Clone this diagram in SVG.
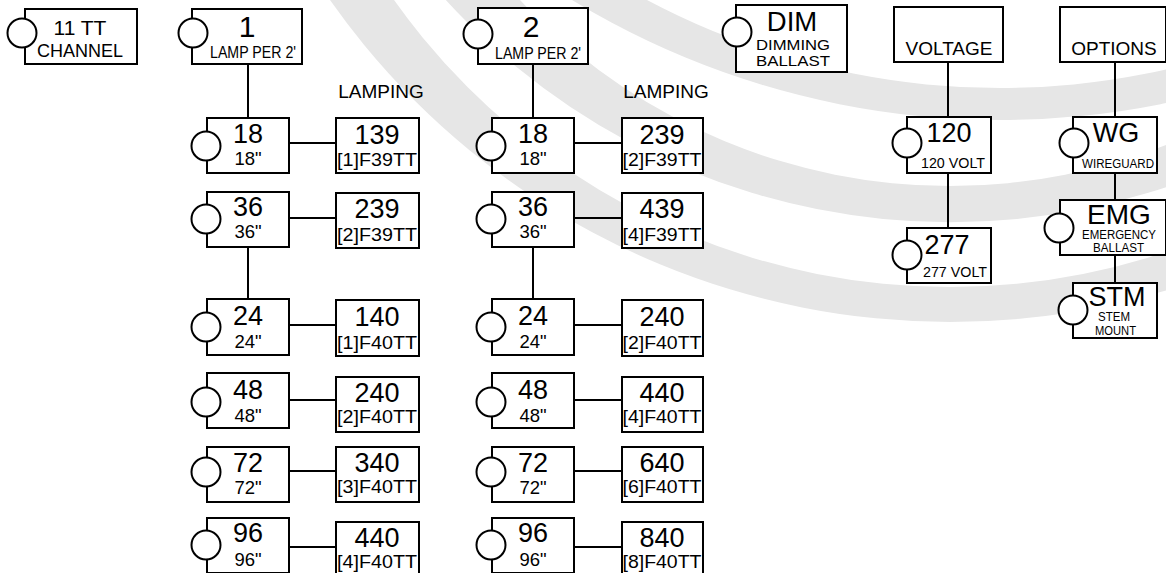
<svg xmlns="http://www.w3.org/2000/svg" width="1166" height="573" viewBox="0 0 1166 573">
<style>
.bg{fill:#fff}
.band{fill:#e6e6e6;fill-rule:evenodd;stroke:none}
.box{fill:#fff;stroke:#000;stroke-width:2}
.port{fill:#fff;stroke:#000;stroke-width:2}
.conn line{stroke:#000;stroke-width:2}
text{font-family:"Liberation Sans",Arial,Helvetica,sans-serif;fill:#000;text-anchor:middle}
.big{font-size:27px}
.sm{font-size:18.5px}
.hd{font-size:19px}
.xs{font-size:12px}
.ms{font-size:15.5px}
</style>
<rect class="bg" x="0" y="0" width="1166" height="573"/>
<g id="watermark">
<path class="band" d="M192.1,-435.9 a757.9,757.9 0 1 0 1515.8,0 a757.9,757.9 0 1 0 -1515.8,0 Z M268,-395 a682,682 0 1 0 1364,0 a682,682 0 1 0 -1364,0 Z"/>
<path class="band" d="M266.9,-461.1 a683.1,683.1 0 1 0 1366.2,0 a683.1,683.1 0 1 0 -1366.2,0 Z M360,-404 a590,590 0 1 0 1180,0 a590,590 0 1 0 -1180,0 Z"/>
<path class="band" d="M176.7,-703.3 a823.3,823.3 0 1 0 1646.6,0 a823.3,823.3 0 1 0 -1646.6,0 Z M248,-664 a752,752 0 1 0 1504,0 a752,752 0 1 0 -1504,0 Z"/>
</g>
<g id="connectors" class="conn">
<line x1="248" y1="64" x2="248" y2="118"/>
<line x1="248" y1="247" x2="248" y2="299"/>
<line x1="533" y1="64" x2="533" y2="118"/>
<line x1="533" y1="247" x2="533" y2="299"/>
<line x1="948" y1="62" x2="948" y2="117"/>
<line x1="948" y1="173" x2="948" y2="228"/>
<line x1="1115" y1="62" x2="1115" y2="117"/>
<line x1="1115" y1="173" x2="1115" y2="200"/>
<line x1="1115" y1="255" x2="1115" y2="283"/>
<line x1="289" y1="143" x2="336" y2="143"/>
<line x1="289" y1="218" x2="336" y2="218"/>
<line x1="289" y1="325" x2="336" y2="325"/>
<line x1="289" y1="400" x2="336" y2="400"/>
<line x1="289" y1="471" x2="336" y2="471"/>
<line x1="289" y1="547" x2="336" y2="547"/>
<line x1="574" y1="143" x2="622" y2="143"/>
<line x1="574" y1="218" x2="622" y2="218"/>
<line x1="574" y1="325" x2="622" y2="325"/>
<line x1="574" y1="400" x2="622" y2="400"/>
<line x1="574" y1="471" x2="622" y2="471"/>
<line x1="574" y1="547" x2="622" y2="547"/>
</g>
<text class="hd" x="381" y="98">LAMPING</text>
<text class="hd" x="666" y="98">LAMPING</text>
<g id="n-11tt">
<rect class="box" x="25" y="9" width="112" height="55"/>
<circle class="port" cx="22" cy="33" r="14.5"/>
<text x="80" y="35" style="font-size:21px">11 TT</text>
<text x="80" y="57" style="font-size:18px">CHANNEL</text>
</g>
<g id="n-1">
<rect class="box" x="192" y="9" width="110" height="55"/>
<circle class="port" cx="193" cy="33" r="14.5"/>
<text x="247" y="37" style="font-size:30px">1</text>
<text x="253" y="58" style="font-size:17px" textLength="86" lengthAdjust="spacingAndGlyphs">LAMP PER 2'</text>
</g>
<g id="n-2">
<rect class="box" x="478" y="8" width="110" height="56"/>
<circle class="port" cx="478" cy="34" r="14.5"/>
<text x="531" y="37" style="font-size:30px">2</text>
<text x="538" y="59" style="font-size:17px" textLength="86" lengthAdjust="spacingAndGlyphs">LAMP PER 2'</text>
</g>
<g id="n-dim">
<rect class="box" x="736" y="5" width="111" height="67"/>
<circle class="port" cx="737" cy="32" r="14.5"/>
<text x="792" y="31" style="font-size:27.5px">DIM</text>
<text class="ms" x="793" y="50" textLength="74" lengthAdjust="spacingAndGlyphs">DIMMING</text>
<text class="ms" x="793" y="66" textLength="74" lengthAdjust="spacingAndGlyphs">BALLAST</text>
</g>
<g id="n-voltage">
<rect class="box" x="894" y="7" width="109" height="55"/>
<text class="hd" x="949" y="55">VOLTAGE</text>
</g>
<g id="n-options">
<rect class="box" x="1060" y="7" width="106" height="55"/>
<text class="hd" x="1114" y="55">OPTIONS</text>
</g>
<!-- column 1 -->
<g id="c1-18"><rect class="box" x="207" y="118" width="82" height="55"/><circle class="port" cx="206" cy="146" r="14.5"/><text class="big" x="248" y="143">18</text><text class="sm" x="248" y="165">18"</text></g>
<g id="c1-36"><rect class="box" x="207" y="192" width="82" height="55"/><circle class="port" cx="206" cy="219" r="14.5"/><text class="big" x="248" y="216">36</text><text class="sm" x="248" y="238">36"</text></g>
<g id="c1-24"><rect class="box" x="207" y="299" width="82" height="56"/><circle class="port" cx="206" cy="327" r="14.5"/><text class="big" x="248" y="325">24</text><text class="sm" x="248" y="348">24"</text></g>
<g id="c1-48"><rect class="box" x="207" y="373" width="82" height="55"/><circle class="port" cx="206" cy="402" r="14.5"/><text class="big" x="248" y="399">48</text><text class="sm" x="248" y="422">48"</text></g>
<g id="c1-72"><rect class="box" x="207" y="447" width="82" height="55"/><circle class="port" cx="206" cy="472" r="14.5"/><text class="big" x="248" y="472">72</text><text class="sm" x="248" y="494">72"</text></g>
<g id="c1-96"><rect class="box" x="207" y="518" width="82" height="55"/><circle class="port" cx="206" cy="545" r="14.5"/><text class="big" x="248" y="542">96</text><text class="sm" x="248" y="566">96"</text></g>
<g id="c1-139"><rect class="box" x="336" y="118" width="83" height="55"/><text class="big" x="377" y="144">139</text><text class="sm" x="377" y="166" textLength="80" lengthAdjust="spacingAndGlyphs">[1]F39TT</text></g>
<g id="c1-239"><rect class="box" x="336" y="193" width="83" height="55"/><text class="big" x="377" y="218">239</text><text class="sm" x="377" y="241" textLength="80" lengthAdjust="spacingAndGlyphs">[2]F39TT</text></g>
<g id="c1-140"><rect class="box" x="336" y="300" width="83" height="56"/><text class="big" x="377" y="326">140</text><text class="sm" x="377" y="349" textLength="80" lengthAdjust="spacingAndGlyphs">[1]F40TT</text></g>
<g id="c1-240"><rect class="box" x="336" y="377" width="83" height="55"/><text class="big" x="377" y="402">240</text><text class="sm" x="377" y="423" textLength="80" lengthAdjust="spacingAndGlyphs">[2]F40TT</text></g>
<g id="c1-340"><rect class="box" x="336" y="447" width="83" height="55"/><text class="big" x="377" y="472">340</text><text class="sm" x="377" y="493" textLength="80" lengthAdjust="spacingAndGlyphs">[3]F40TT</text></g>
<g id="c1-440"><rect class="box" x="336" y="522" width="83" height="55"/><text class="big" x="377" y="547">440</text><text class="sm" x="377" y="568" textLength="80" lengthAdjust="spacingAndGlyphs">[4]F40TT</text></g>
<!-- column 2 -->
<g id="c2-18"><rect class="box" x="492" y="118" width="82" height="55"/><circle class="port" cx="491" cy="146" r="14.5"/><text class="big" x="533" y="143">18</text><text class="sm" x="533" y="165">18"</text></g>
<g id="c2-36"><rect class="box" x="492" y="192" width="82" height="55"/><circle class="port" cx="491" cy="219" r="14.5"/><text class="big" x="533" y="216">36</text><text class="sm" x="533" y="238">36"</text></g>
<g id="c2-24"><rect class="box" x="492" y="299" width="82" height="56"/><circle class="port" cx="491" cy="327" r="14.5"/><text class="big" x="533" y="325">24</text><text class="sm" x="533" y="348">24"</text></g>
<g id="c2-48"><rect class="box" x="492" y="373" width="82" height="55"/><circle class="port" cx="491" cy="402" r="14.5"/><text class="big" x="533" y="399">48</text><text class="sm" x="533" y="422">48"</text></g>
<g id="c2-72"><rect class="box" x="492" y="447" width="82" height="55"/><circle class="port" cx="491" cy="472" r="14.5"/><text class="big" x="533" y="472">72</text><text class="sm" x="533" y="494">72"</text></g>
<g id="c2-96"><rect class="box" x="492" y="518" width="82" height="55"/><circle class="port" cx="491" cy="545" r="14.5"/><text class="big" x="533" y="542">96</text><text class="sm" x="533" y="566">96"</text></g>
<g id="c2-239"><rect class="box" x="622" y="118" width="81" height="55"/><text class="big" x="662" y="144">239</text><text class="sm" x="662" y="166" textLength="79" lengthAdjust="spacingAndGlyphs">[2]F39TT</text></g>
<g id="c2-439"><rect class="box" x="622" y="193" width="81" height="55"/><text class="big" x="662" y="218">439</text><text class="sm" x="662" y="241" textLength="79" lengthAdjust="spacingAndGlyphs">[4]F39TT</text></g>
<g id="c2-240"><rect class="box" x="622" y="300" width="81" height="56"/><text class="big" x="662" y="326">240</text><text class="sm" x="662" y="349" textLength="79" lengthAdjust="spacingAndGlyphs">[2]F40TT</text></g>
<g id="c2-440"><rect class="box" x="622" y="377" width="81" height="55"/><text class="big" x="662" y="402">440</text><text class="sm" x="662" y="423" textLength="79" lengthAdjust="spacingAndGlyphs">[4]F40TT</text></g>
<g id="c2-640"><rect class="box" x="622" y="447" width="81" height="55"/><text class="big" x="662" y="472">640</text><text class="sm" x="662" y="493" textLength="79" lengthAdjust="spacingAndGlyphs">[6]F40TT</text></g>
<g id="c2-840"><rect class="box" x="622" y="522" width="81" height="55"/><text class="big" x="662" y="547">840</text><text class="sm" x="662" y="568" textLength="79" lengthAdjust="spacingAndGlyphs">[8]F40TT</text></g>
<!-- voltage / options -->
<g id="n-120"><rect class="box" x="907" y="117" width="84" height="56"/><circle class="port" cx="907" cy="143" r="14.5"/><text class="big" x="949" y="142">120</text><text class="ms" x="953" y="168" textLength="64" lengthAdjust="spacingAndGlyphs">120 VOLT</text></g>
<g id="n-277"><rect class="box" x="907" y="228" width="84" height="55"/><circle class="port" cx="907" cy="255" r="14.5"/><text class="big" x="947" y="254">277</text><text class="ms" x="955" y="277" textLength="64" lengthAdjust="spacingAndGlyphs">277 VOLT</text></g>
<g id="n-wg"><rect class="box" x="1073" y="117" width="84" height="56"/><circle class="port" cx="1074" cy="143" r="14.5"/><text class="big" x="1116" y="142">WG</text><text class="xs" x="1118" y="168" textLength="72" lengthAdjust="spacingAndGlyphs">WIREGUARD</text></g>
<g id="n-emg"><rect class="box" x="1060" y="200" width="106" height="55"/><circle class="port" cx="1059" cy="228" r="14.5"/><text x="1119" y="224" style="font-size:28px">EMG</text><text class="xs" x="1119" y="239" textLength="74" lengthAdjust="spacingAndGlyphs">EMERGENCY</text><text class="xs" x="1118.5" y="252" textLength="51" lengthAdjust="spacingAndGlyphs">BALLAST</text></g>
<g id="n-stm"><rect class="box" x="1073" y="283" width="84" height="55"/><circle class="port" cx="1073" cy="310" r="14.5"/><text class="big" x="1117" y="306">STM</text><text class="xs" x="1114" y="321" textLength="32" lengthAdjust="spacingAndGlyphs">STEM</text><text class="xs" x="1115.5" y="335" textLength="41" lengthAdjust="spacingAndGlyphs">MOUNT</text></g>
</svg>
